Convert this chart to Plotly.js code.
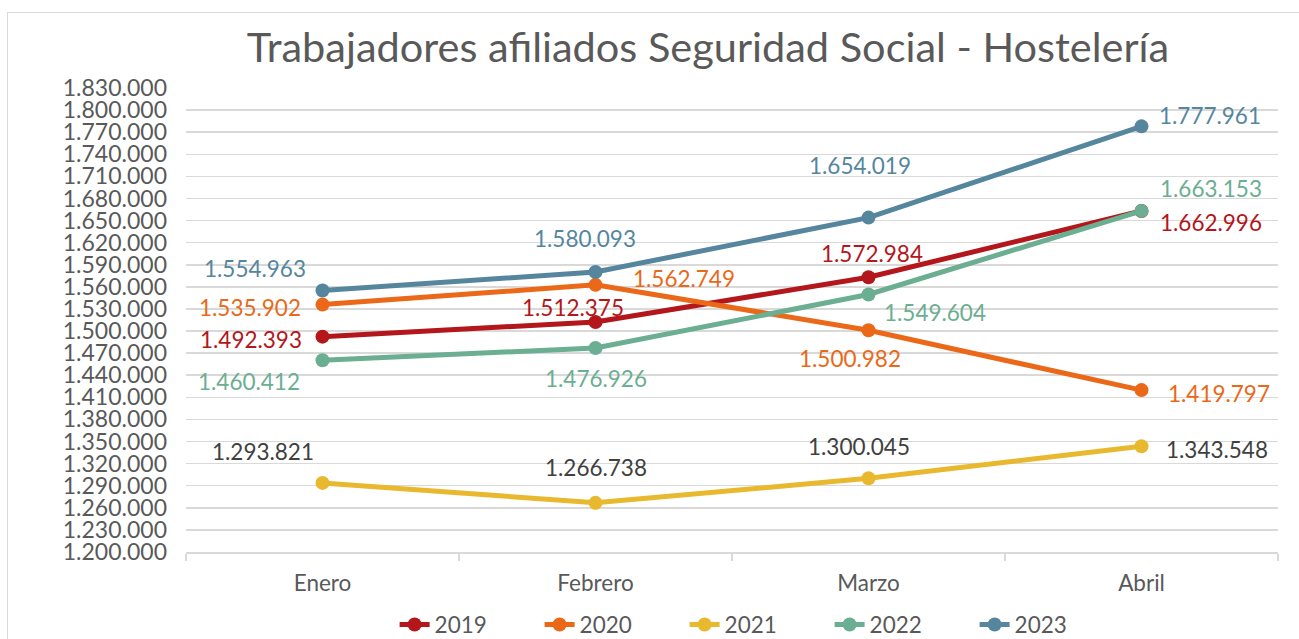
<!DOCTYPE html>
<html>
<head>
<meta charset="utf-8">
<script src="https://cdn.plot.ly/plotly-3.0.1.min.js"></script>
<style>
  html, body { margin: 0; padding: 0; background: #ffffff; overflow: hidden; }
  #chart { width: 1299px; height: 639px; position: absolute; left: 0; top: 0; }
  #frame { position: absolute; left: 7px; top: 12px; width: 1310px; height: 650px;
           border: 1.5px solid #d9d9d9; pointer-events: none; box-sizing: border-box; }
</style>
</head>
<body>
<div id="chart"></div>
<div id="frame"></div>
<script>
const months = ['Enero', 'Febrero', 'Marzo', 'Abril'];
const seriesNames = ['2019', '2020', '2021', '2022', '2023'];
const y2019 = [1492393, 1512375, 1572984, 1662996];
const y2020 = [1535902, 1562749, 1500982, 1419797];
const y2021 = [1293821, 1266738, 1300045, 1343548];
const y2022 = [1460412, 1476926, 1549604, 1663153];
const y2023 = [1554963, 1580093, 1654019, 1777961];
const yTicks = [1200000, 1230000, 1260000, 1290000, 1320000, 1350000, 1380000, 1410000,
                1440000, 1470000, 1500000, 1530000, 1560000, 1590000, 1620000, 1650000,
                1680000, 1710000, 1740000, 1770000, 1800000, 1830000];

// styling (not data)
const colors = ['#B3161B', '#EA6817', '#E8B92F', '#6BAE91', '#55869E'];
const labelColors = ['#B3161B', '#EA6817', '#404040', '#6BAE91', '#55869E'];
// label offsets in pixels [dx, dy] for each series / month
const labelOffsets = [
  [[-72, 3], [-23, -14], [3, -24], [69, 11]],
  [[-73, 3], [88, -6], [-19, 28], [77, 3]],
  [[-60, -31], [0, -35], [-10, -32], [75, 3]],
  [[-74, 21], [0, 30], [66, 18], [69, -22]],
  [[-68, -22], [-11, -34], [-9, -52], [68, -11]]
];

const FONT = 'Lato, "Open Sans", sans-serif';
const allSeries = [y2019, y2020, y2021, y2022, y2023];

function fmt(v) {
  return String(v).replace(/\B(?=(\d{3})+(?!\d))/g, '.');
}

const traces = allSeries.map((ys, i) => ({
  type: 'scatter',
  mode: 'lines+markers',
  name: seriesNames[i],
  x: months,
  y: ys,
  line: { color: colors[i], width: 5 },
  marker: { color: colors[i], size: 14 },
  hoverinfo: 'x+y+name'
}));

const annotations = [];
allSeries.forEach((ys, i) => {
  ys.forEach((v, j) => {
    annotations.push({
      x: months[j], y: v, xref: 'x', yref: 'y',
      text: fmt(v), showarrow: true, arrowcolor: 'rgba(0,0,0,0)',
      ax: labelOffsets[i][j][0], ay: labelOffsets[i][j][1],
      xanchor: 'center', yanchor: 'middle',
      font: { family: FONT, size: 22.5, color: labelColors[i] }
    });
  });
});

const layout = {
  width: 1299, height: 639,
  margin: { l: 186, r: 21, t: 88, b: 87, pad: 0 },
  paper_bgcolor: 'rgba(0,0,0,0)',
  plot_bgcolor: 'rgba(0,0,0,0)',
  separators: ',.',
  showlegend: true,
  title: {
    text: 'Trabajadores afiliados Seguridad Social - Hostelería',
    font: { family: FONT, size: 41.5, color: '#595959' },
    xref: 'paper', x: 0.478, xanchor: 'center',
    yref: 'container', y: 0.926, yanchor: 'middle'
  },
  xaxis: {
    type: 'category',
    range: [-0.5, 3.5],
    showgrid: false,
    showline: true, linecolor: '#d9d9d9', linewidth: 1.5,
    ticks: 'outside', tickson: 'boundaries', ticklen: 7, tickcolor: '#d9d9d9', tickwidth: 1.5,
    tickfont: { family: FONT, size: 22.5, color: '#595959' },
    ticklabelstandoff: 10,
    fixedrange: true
  },
  yaxis: {
    range: [1200000, 1830000],
    tickvals: yTicks,
    tickformat: ',d',
    showgrid: true, gridcolor: '#d9d9d9', gridwidth: 1.5,
    zeroline: false, showline: false,
    ticks: '',
    tickfont: { family: FONT, size: 23, color: '#595959' },
    ticklabelstandoff: 18,
    fixedrange: true
  },
  legend: {
    orientation: 'h',
    xref: 'paper', x: 0.523, xanchor: 'center',
    yref: 'container', y: 0.022, yanchor: 'middle',
    font: { family: FONT, size: 22.5, color: '#595959' },
    entrywidth: 100, entrywidthmode: 'pixels',
    bgcolor: 'rgba(0,0,0,0)'
  },
  annotations: annotations
};

Plotly.newPlot('chart', traces, layout, { displayModeBar: false, staticPlot: true });
</script>
</body>
</html>
